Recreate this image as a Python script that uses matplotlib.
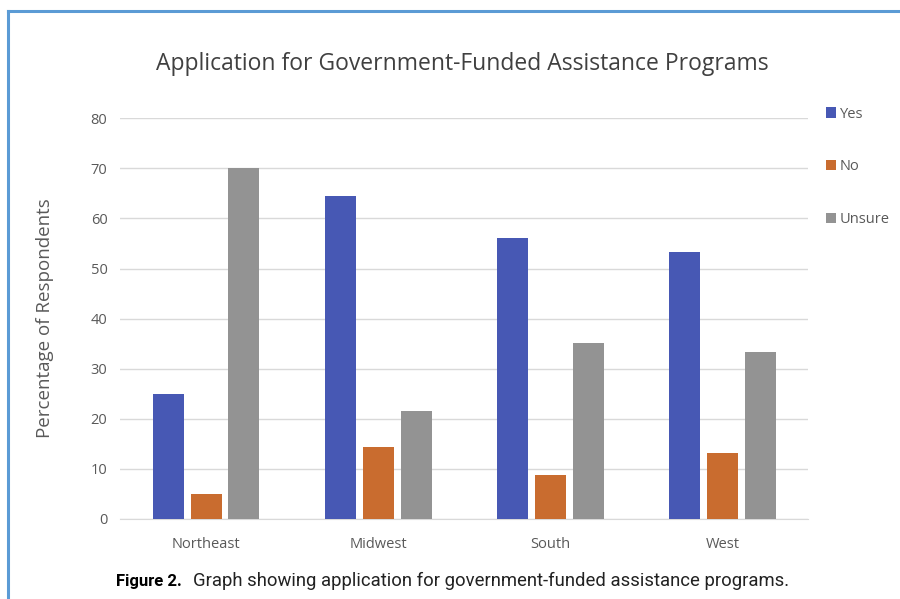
import matplotlib.pyplot as plt
import numpy as np
from matplotlib.lines import Line2D

regions = ["Northeast", "Midwest", "South", "West"]
yes = [25, 64.4, 56, 53.3]
no = [4.9, 14.4, 8.7, 13.2]
unsure = [70, 21.6, 35.1, 33.3]
series = ["Yes", "No", "Unsure"]
colors = ["#4758b4", "#c96c2f", "#939393"]

plt.rcParams['font.family'] = ['Open Sans', 'DejaVu Sans']

fig = plt.figure(figsize=(9, 5.99), dpi=100)
ax = fig.add_axes([0.1333, 0.1336, 0.765, 0.669])

x = np.arange(len(regions))
w = 0.18
for i, (vals, lab, c) in enumerate(zip([yes, no, unsure], series, colors)):
    ax.bar(x + (i - 1) * 0.22, vals, w, color=c, label=lab, zorder=3)

ax.set_xlim(-0.5, 3.5)
ax.set_ylim(0, 80)
ax.set_yticks(range(0, 81, 10))
ax.set_xticks(x)
ax.set_xticklabels(regions)
ax.grid(axis='y', color='#d9d9d9', lw=1, zorder=0)
for s in ['top', 'right', 'left']:
    ax.spines[s].set_visible(False)
ax.spines['bottom'].set_color('#d9d9d9')
ax.tick_params(length=0, colors='#595959', labelsize=10.5)
ax.tick_params(axis='y', pad=9)
ax.tick_params(axis='x', pad=13)
ax.set_ylabel("Percentage of Respondents", fontsize=13.5, color='#595959', labelpad=26)

fig.text(0.514, 0.893, "Application for Government-Funded Assistance Programs",
         ha='center', va='center', fontsize=16.5, color='#404040')

ax.legend(loc='upper left', bbox_to_anchor=(1.006, 1.062), frameon=False,
          fontsize=10.5, labelspacing=2.6, handlelength=0.7, handleheight=0.7,
          handletextpad=0.25, labelcolor='#595959')

fig.text(0.129, 0.03, "Figure 2.", fontsize=12, fontweight='bold',
         family=['Roboto', 'DejaVu Sans'], va='center')
fig.text(0.2144, 0.03, "Graph showing application for government-funded assistance programs.",
         fontsize=13.3, family=['Roboto', 'DejaVu Sans'], va='center', color='#222222')

bc = '#5b9bd5'
fig.add_artist(Line2D([0.0094, 0.0094], [0, 0.982], transform=fig.transFigure, color=bc, lw=2.2))
fig.add_artist(Line2D([0.0094, 1], [0.982, 0.982], transform=fig.transFigure, color=bc, lw=2.2))

fig.savefig("out.png", dpi=100)
